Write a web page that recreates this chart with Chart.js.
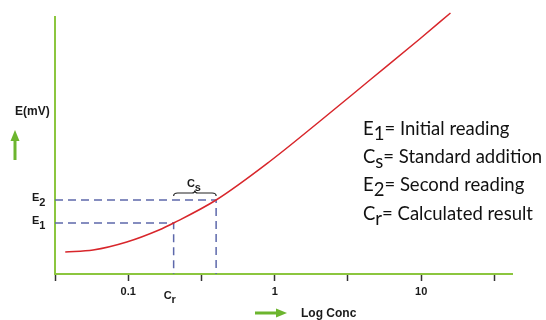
<!DOCTYPE html>
<html>
<head>
<meta charset="utf-8">
<script src="https://cdn.jsdelivr.net/npm/chart.js@4.4.1/dist/chart.umd.min.js"></script>
<style>
html,body{margin:0;padding:0;background:#fff;}
#wrap{width:546px;height:320px;position:relative;}
</style>
</head>
<body>
<div id="wrap"><canvas id="c"></canvas></div>
<script>
// Log10 of concentration (x) and electrode potential in arbitrary units (y)
const logConc   = [-1.43, -1.24, -1.01, -0.79, -0.69, -0.40, -0.03, 0.31, 0.65, 0.99, 1.20];
const potential = [22, 24, 32, 44, 51, 74, 113, 153, 194, 235, 261];
const tickValues = [-1.5, -1, -0.5, 0, 0.5, 1, 1.5];
const tickLabels = ['', '0.1', '', '1', '', '10', ''];
const E1 = 51, E2 = 74;
const logCr = -0.69, logC2 = -0.40;
const legendLines = [['E','1','= Initial reading'],['C','s','= Standard addition'],['E','2','= Second reading'],['C','r','= Calculated result']];

const GREEN = '#8cc63f', DASH = '#5d68ab', RED = '#d8262b', TXT = '#1a1a1a';

function subText(ctx, x, y, main, sub, font, subFont, drop, rest) {
  ctx.font = font; ctx.fillText(main, x, y);
  const w = ctx.measureText(main).width;
  ctx.font = subFont; ctx.fillText(sub, x + w, y + drop);
  const w2 = ctx.measureText(sub).width;
  if (rest) { ctx.font = font; ctx.fillText(rest, x + w + w2, y); }
}

const annot = {
  id: 'annot',
  afterDraw(chart) {
    const ctx = chart.ctx, xs = chart.scales.x, ys = chart.scales.y;
    ctx.save();
    ctx.fillStyle = TXT; ctx.textBaseline = 'alphabetic'; ctx.textAlign = 'left';
    const bf = 'bold 11px "Liberation Sans", Arial, sans-serif';
    [[E2,'2'],[E1,'1']].forEach(([v,s]) => {
      const py = ys.getPixelForValue(v);
      subText(ctx, 32, py + 1, 'E', s, bf, bf, 5);
    });
    subText(ctx, xs.getPixelForValue(logCr) - 10, 299, 'C', 'r', bf, bf, 4);
    const xa = xs.getPixelForValue(logCr), xb = xs.getPixelForValue(logC2);
    const mid = (xa + xb) / 2;
    subText(ctx, mid - 8, 187, 'C', 's', bf, bf, 4);
    ctx.strokeStyle = '#222'; ctx.lineWidth = 1.2;
    ctx.beginPath();
    ctx.moveTo(xa, 196);
    ctx.quadraticCurveTo(xa, 193, xa + 4, 193);
    ctx.lineTo(mid - 3, 193);
    ctx.quadraticCurveTo(mid, 193, mid, 190.5);
    ctx.quadraticCurveTo(mid, 193, mid + 3, 193);
    ctx.lineTo(xb - 4, 193);
    ctx.quadraticCurveTo(xb, 193, xb, 196);
    ctx.stroke();
    ctx.font = 'bold 12px "Liberation Sans", Arial, sans-serif';
    ctx.fillText('E(mV)', 15, 115);
    ctx.fillText('Log Conc', 301, 317);
    ctx.fillStyle = '#6cb52e';
    ctx.fillRect(13.5, 139, 3, 21);
    ctx.beginPath(); ctx.moveTo(15, 130); ctx.lineTo(19.5, 141); ctx.lineTo(10.5, 141); ctx.closePath(); ctx.fill();
    ctx.fillRect(255, 311.5, 22, 3);
    ctx.beginPath(); ctx.moveTo(287, 313); ctx.lineTo(276, 308.5); ctx.lineTo(276, 317.5); ctx.closePath(); ctx.fill();
    ctx.fillStyle = '#111';
    const lf = '18.5px Lato, "Open Sans", sans-serif';
    legendLines.forEach((l, i) => {
      subText(ctx, 363, 135 + i * 28.2, l[0], l[1], lf, lf, 5, l[2]);
    });
    ctx.restore();
  }
};

new Chart(document.getElementById('c'), {
  type: 'line',
  data: {
    datasets: [
      { data: logConc.map((v, i) => ({x: v, y: potential[i]})), borderColor: RED, borderWidth: 1.5,
        pointRadius: 0, cubicInterpolationMode: 'monotone', clip: false, order: 0 },
      { data: [{x: -1.5, y: E2}, {x: logC2, y: E2}, {x: logC2, y: 0}], borderColor: DASH, borderWidth: 1.5,
        borderDash: [8, 5], pointRadius: 0, tension: 0, order: 1 },
      { data: [{x: -1.5, y: E1}, {x: logCr, y: E1}, {x: logCr, y: 0}], borderColor: DASH, borderWidth: 1.5,
        borderDash: [8, 5], pointRadius: 0, tension: 0, order: 1 }
    ]
  },
  options: {
    responsive: true, maintainAspectRatio: false, animation: false,
    layout: { padding: { top: 17, right: 34, left: 0, bottom: 0 } },
    plugins: { legend: { display: false }, tooltip: { enabled: false } },
    scales: {
      x: {
        type: 'linear', min: -1.5, max: 1.62,
        afterBuildTicks: s => { s.ticks = tickValues.map(v => ({ value: v })); },
        afterFit: s => { s.height = 46; },
        border: { color: GREEN, width: 2 },
        grid: { drawOnChartArea: false, drawTicks: true, tickLength: 7, tickColor: '#333', tickWidth: 1.5 },
        ticks: { autoSkip: false, maxRotation: 0, padding: 4, color: TXT,
          font: { family: '"Liberation Sans", Arial, sans-serif', size: 11, weight: 'bold' },
          callback: (v) => { const i = tickValues.indexOf(v); return i >= 0 ? tickLabels[i] : ''; } }
      },
      y: {
        type: 'linear', min: 0, max: 257,
        afterFit: s => { s.width = 55; },
        border: { color: GREEN, width: 2 },
        grid: { display: false },
        ticks: { display: false }
      }
    }
  },
  plugins: [annot]
});
</script>
</body>
</html>
